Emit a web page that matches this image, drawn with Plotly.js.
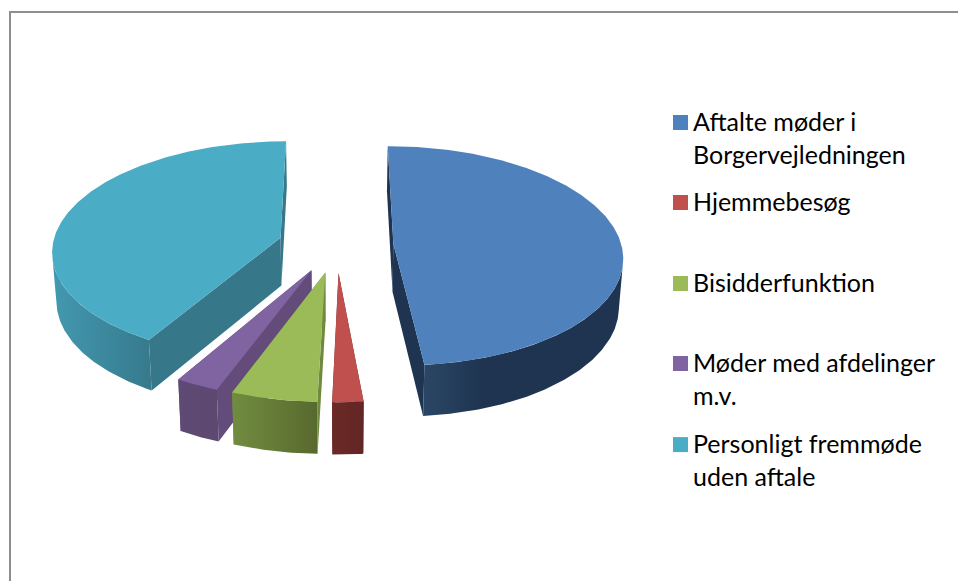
<!DOCTYPE html>
<html>
<head>
<meta charset="utf-8">
<script src="https://cdn.plot.ly/plotly-3.0.1.min.js"></script>
<style>html,body{margin:0;padding:0;background:#fff}#chart{width:958px;height:581px}</style>
</head>
<body>
<div id="chart"></div>
<script>
// Data (percent of the whole)
var categories = ["Aftalte møder i Borgervejledningen", "Hjemmebesøg", "Bisidderfunktion", "Møder med afdelinger m.v.", "Personligt fremmøde uden aftale"];
var values = [48.5, 1.9, 5.3, 2.7, 41.6];
var labelLines = [["Aftalte møder i", "Borgervejledningen"], ["Hjemmebesøg"], ["Bisidderfunktion"], ["Møder med afdelinger", "m.v."], ["Personligt fremmøde", "uden aftale"]];

// Styles
var topColors = ["#4F81BD", "#C0504D", "#9BBB59", "#8064A2", "#4BACC6"];
var cutColors = ["#1E3450", "#652725", "#6F8A3E", "#644C7A", "#36788A"];
var wallScales = [
  [[0, "#2B4766"], [0.3, "#1E3450"], [1, "#1E3450"]],
  [[0, "#6A2927"], [1, "#622624"]],
  [[0, "#718C40"], [1, "#58692E"]],
  [[0, "#5F4A75"], [1, "#5D4870"]],
  [[0, "#4299B0"], [1, "#37798D"]]
];
var paintOrder = [4, 3, 2, 1, 0];
var explosion = [0.25, 0.25, 0.25, 0.25, 0.256];

// Projection of the tilted pie onto the page
var cx = 336.5, cy = 245, a = 228, b = 108.6, k = 0.11, k2 = 0.063, h = 48, shrink = 0.985;
function project(X, Z, low) {
  var den = 1 - k * Z, x = a * X / den, y = b * Z / den;
  if (low) { x *= shrink; y += h / (1 - k2 * Z); }
  return [cx + x, cy + y];
}
function poly(points, name, style) {
  var t = {type: "scatter", mode: "lines", fill: "toself", name: name, hoverinfo: "skip", showlegend: false,
           line: {width: 0}, x: points.map(function (p) { return p[0]; }), y: points.map(function (p) { return p[1]; })};
  for (var key in style) t[key] = style[key];
  return t;
}

var total = values.reduce(function (s, v) { return s + v; }, 0);
var slices = [], acc = 0;
values.forEach(function (v, i) {
  var start = acc / total * 2 * Math.PI, end = (acc + v) / total * 2 * Math.PI, mid = (start + end) / 2;
  slices.push({start: start, end: end, xc: explosion[i] * Math.sin(mid), zc: -explosion[i] * Math.cos(mid)});
  acc += v;
});

var traces = [];
paintOrder.forEach(function (i) {
  var s = slices[i], n = Math.max(4, Math.ceil((s.end - s.start) * 90)), arc = [], arcT = [];
  for (var j = 0; j <= n; j++) {
    var t = s.start + (s.end - s.start) * j / n;
    arcT.push(t);
    arc.push([s.xc + Math.sin(t), s.zc - Math.cos(t)]);
  }
  // silhouette of this slice's circle: the wall is only seen between these two angles
  var tRight = 0, tLeft = 0, maxX = -Infinity, minX = Infinity;
  for (var d = 0; d < 720; d++) {
    var u = d / 720 * 2 * Math.PI, px = project(s.xc + Math.sin(u), s.zc - Math.cos(u), false)[0];
    if (px > maxX) { maxX = px; tRight = u; }
    if (px < minX) { minX = px; tLeft = u; }
  }
  var front = arc.filter(function (p, q) { return arcT[q] >= tRight && arcT[q] <= tLeft; });
  var first = arc[0], last = arc[arc.length - 1];
  function wall(p) {
    return [project(s.xc, s.zc, false), project(p[0], p[1], false), project(p[0], p[1], true), project(s.xc, s.zc, true)];
  }
  traces.push(poly(wall(first), categories[i], {fillcolor: cutColors[i]}));
  traces.push(poly(wall(last), categories[i], {fillcolor: cutColors[i]}));
  var outer = front.map(function (p) { return project(p[0], p[1], false); })
    .concat(front.slice().reverse().map(function (p) { return project(p[0], p[1], true); }));
  traces.push(poly(outer, categories[i], {fillgradient: {type: "horizontal", colorscale: wallScales[i]}}));
  var top = [project(s.xc, s.zc, false)].concat(arc.map(function (p) { return project(p[0], p[1], false); }));
  traces.push(poly(top, categories[i], {fillcolor: topColors[i]}));
});

// Legend drawn in place: key squares and label lines
var keyX = 680.5, textX = 693.5, keyY = [122.5, 202.5, 283.5, 363.5, 444.6], lineGap = 33;
traces.push({type: "scatter", mode: "markers", x: keyY.map(function () { return keyX; }), y: keyY, showlegend: false, hoverinfo: "skip",
  marker: {symbol: "square", size: 15, color: topColors, line: {width: 0}}});
var annotations = [];
labelLines.forEach(function (lines, i) {
  lines.forEach(function (line, j) {
    annotations.push({x: textX, y: keyY[i] + j * lineGap, xref: "x", yref: "y", text: line, showarrow: false, xanchor: "left", yanchor: "middle",
      xshift: -2.5, yshift: 1.5, font: {family: "Lato, 'Open Sans', sans-serif", size: 25, color: "#000"}});
  });
});

Plotly.newPlot("chart", traces, {
  width: 958, height: 581, margin: {l: 0, r: 0, t: 0, b: 0},
  paper_bgcolor: "#fff", plot_bgcolor: "#fff", showlegend: false,
  xaxis: {range: [0, 958], visible: false, fixedrange: true},
  yaxis: {range: [581, 0], visible: false, fixedrange: true},
  annotations: annotations,
  shapes: [
    {type: "line", xref: "x", yref: "y", x0: 10, x1: 10, y0: 11, y1: 581, line: {color: "#8E8E8E", width: 2}},
    {type: "line", xref: "x", yref: "y", x0: 10, x1: 958, y0: 12, y1: 12, line: {color: "#8E8E8E", width: 2}}
  ]
}, {displayModeBar: false, staticPlot: true});
</script>
</body>
</html>
